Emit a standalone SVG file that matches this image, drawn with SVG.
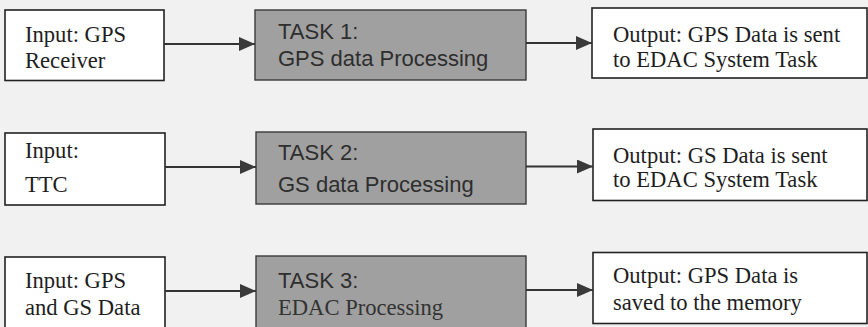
<svg xmlns="http://www.w3.org/2000/svg" width="868" height="327" viewBox="0 0 868 327">
<style>
.box{fill:#ffffff;stroke:#222222;stroke-width:1.6}
.task{fill:#a0a0a0;stroke:#3a3a3a;stroke-width:1.4}
.serif{font-family:"Liberation Serif","Times New Roman",serif;font-size:22.6px;fill:#1e1e1e}
.sans{font-family:"Liberation Sans",Arial,sans-serif;font-size:22px;fill:#2e2e2e}
.tserif{font-family:"Liberation Serif","Times New Roman",serif;font-size:22.6px;fill:#333333}
.conn{stroke:#333333;stroke-width:2;fill:none}
</style>
<defs>
<marker id="arr" markerWidth="16" markerHeight="14" refX="16" refY="7" orient="auto" markerUnits="userSpaceOnUse">
<path d="M0,0 L16,7 L0,14 Z" fill="#3a3a3a"/>
</marker>
</defs>
<rect x="0" y="0" width="868" height="327" fill="#f1f1f1"/>
<g id="input1">
<rect class="box" x="5" y="10" width="159" height="70.5"/>
<text class="serif" x="25" y="42">Input: GPS</text>
<text class="serif" x="25" y="68">Receiver</text>
</g>
<g id="task1">
<rect class="task" x="255" y="10" width="271" height="70"/>
<text class="sans" x="278" y="39">TASK 1:</text>
<text class="sans" x="278" y="65.5">GPS data Processing</text>
</g>
<g id="output1">
<rect class="box" x="592" y="8" width="275" height="70"/>
<text class="serif" x="613" y="42">Output: GPS Data is sent</text>
<text class="serif" x="613" y="67">to EDAC System Task</text>
</g>
<g id="input2">
<rect class="box" x="5" y="133" width="160" height="72"/>
<text class="serif" x="25" y="158">Input:</text>
<text class="serif" x="25" y="191.5">TTC</text>
</g>
<g id="task2">
<rect class="task" x="256" y="132" width="270" height="72"/>
<text class="sans" x="278" y="160">TASK 2:</text>
<text class="sans" x="278" y="192">GS data Processing</text>
</g>
<g id="output2">
<rect class="box" x="593" y="129" width="274" height="71.5"/>
<text class="serif" x="613" y="163">Output: GS Data is sent</text>
<text class="serif" x="613" y="187">to EDAC System Task</text>
</g>
<g id="input3">
<rect class="box" x="5" y="257" width="160" height="80"/>
<text class="serif" x="25" y="288">Input: GPS</text>
<text class="serif" x="25" y="315">and GS Data</text>
</g>
<g id="task3">
<rect class="task" x="256" y="256" width="270" height="80"/>
<text class="sans" x="278" y="288">TASK 3:</text>
<text class="tserif" x="278" y="315">EDAC Processing</text>
</g>
<g id="output3">
<rect class="box" x="593" y="252.5" width="274" height="71"/>
<text class="serif" x="613" y="283">Output: GPS Data is</text>
<text class="serif" x="613" y="310">saved to the memory</text>
</g>
<g id="connectors">
<line class="conn" x1="164" y1="44" x2="255" y2="44" marker-end="url(#arr)"/>
<line class="conn" x1="526" y1="43" x2="592" y2="43" marker-end="url(#arr)"/>
<line class="conn" x1="165" y1="167" x2="256" y2="167" marker-end="url(#arr)"/>
<line class="conn" x1="526" y1="166.5" x2="593" y2="166.5" marker-end="url(#arr)"/>
<line class="conn" x1="165" y1="291" x2="256" y2="291" marker-end="url(#arr)"/>
<line class="conn" x1="526" y1="290" x2="593" y2="290" marker-end="url(#arr)"/>
</g>
</svg>
